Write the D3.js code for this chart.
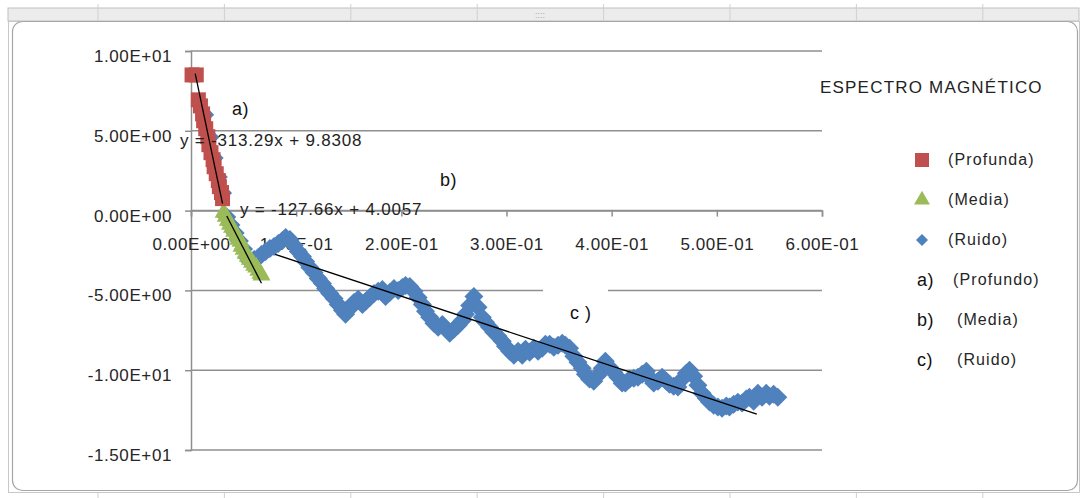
<!DOCTYPE html>
<html>
<head>
	<meta charset="utf-8">
	<title>Espectro magnetico</title>
	<script src="https://d3js.org/d3.v7.min.js"></script>
	<style type="text/css">
		body {
			margin: 0;
			background: #fff;
		}
		svg text {
			font-family: "Liberation Sans", Arial, sans-serif;
			fill: #262626;
		}
	</style>
</head>
<body>
	<script type="text/javascript">

		// ---- data ----
		// (Profunda) red squares
		var redX = [0.001, 0.005, 0.007, 0.009, 0.011, 0.012, 0.014, 0.016, 0.017, 0.019, 0.021, 0.022, 0.024, 0.026, 0.027, 0.029, 0.030];
		var redY = [8.50, 8.50, 6.94, 6.56, 6.06, 5.63, 5.13, 4.63, 4.13, 3.63, 3.19, 2.75, 2.31, 1.88, 1.50, 1.13, 0.75];

		// (Media) green triangles
		var greenX = [0.031, 0.033, 0.035, 0.037, 0.039, 0.041, 0.043, 0.045, 0.047, 0.048, 0.050, 0.052, 0.054, 0.056, 0.058, 0.060, 0.062, 0.064, 0.066, 0.067];
		var greenY = [-0.13, -0.38, -0.63, -0.88, -1.06, -1.31, -1.56, -1.81, -1.94, -2.25, -2.44, -2.69, -2.88, -3.06, -3.25, -3.44, -3.56, -3.75, -3.94, -4.06];

		// (Ruido) blue diamonds
		var blueX = [0.013, 0.018, 0.022, 0.026, 0.030, 0.034, 0.038, 0.042, 0.046, 0.050, 0.053,
			0.056, 0.060, 0.064, 0.067, 0.071, 0.075, 0.079, 0.083, 0.087, 0.090,
			0.094, 0.098, 0.102, 0.106, 0.109, 0.113, 0.117, 0.121, 0.125, 0.128,
			0.132, 0.136, 0.140, 0.144, 0.147, 0.151, 0.155, 0.159, 0.163, 0.166,
			0.170, 0.174, 0.178, 0.182, 0.185, 0.189, 0.193, 0.197, 0.201, 0.204,
			0.208, 0.212, 0.216, 0.220, 0.223, 0.227, 0.231, 0.235, 0.239, 0.242,
			0.246, 0.250, 0.254, 0.258, 0.261, 0.265, 0.269, 0.273, 0.277, 0.280,
			0.284, 0.288, 0.292, 0.296, 0.299, 0.303, 0.307, 0.311, 0.315, 0.318,
			0.322, 0.326, 0.330, 0.334, 0.337, 0.341, 0.345, 0.349, 0.353, 0.356,
			0.360, 0.364, 0.368, 0.372, 0.375, 0.379, 0.383, 0.387, 0.391, 0.394,
			0.398, 0.402, 0.406, 0.410, 0.413, 0.417, 0.421, 0.425, 0.429, 0.433,
			0.436, 0.440, 0.444, 0.448, 0.452, 0.455, 0.459, 0.463, 0.467, 0.471,
			0.474, 0.478, 0.482, 0.486, 0.490, 0.493, 0.497, 0.501, 0.505, 0.509,
			0.512, 0.516, 0.520, 0.524, 0.528, 0.531, 0.535, 0.539, 0.543, 0.547,
			0.550, 0.554, 0.558];
		var blueY = [6.00, 4.60, 3.30, 2.10, 1.10, -0.40, -0.90, -1.40, -1.90, -2.40, -2.90,
			-3.19, -3.06, -2.94, -2.75, -2.56, -2.38, -2.25, -2.06, -1.88, -1.69,
			-1.81, -2.19, -2.56, -2.88, -3.19, -3.56, -3.88, -4.25, -4.56, -4.88,
			-5.19, -5.50, -5.88, -6.25, -6.50, -6.13, -5.75, -5.56, -5.88, -5.69,
			-5.44, -5.19, -5.06, -4.94, -5.38, -5.13, -4.88, -5.00, -4.81, -4.69,
			-4.75, -5.06, -5.44, -5.88, -6.31, -6.69, -7.06, -7.31, -7.13, -7.38,
			-7.69, -7.44, -7.19, -6.88, -6.50, -5.94, -5.38, -6.06, -6.69, -7.00,
			-7.31, -7.63, -7.88, -8.19, -8.50, -8.81, -9.06, -8.81, -9.06, -8.69,
			-8.88, -8.63, -8.81, -8.63, -8.38, -8.38, -8.56, -8.44, -8.31, -8.44,
			-8.63, -9.13, -9.50, -9.88, -10.25, -10.56, -10.69, -10.31, -9.88, -9.44,
			-9.81, -10.13, -10.44, -10.81, -10.81, -10.56, -10.50, -10.44, -10.25, -10.06,
			-10.44, -10.81, -10.69, -10.44, -10.69, -10.88, -11.00, -11.06, -10.56, -10.19,
			-10.00, -10.38, -10.94, -11.44, -11.75, -12.00, -12.19, -12.31, -12.38, -12.25,
			-12.31, -12.13, -12.00, -12.06, -11.81, -11.69, -11.94, -11.44, -11.69, -11.44,
			-11.63, -11.50, -11.69];

		// linear trend lines (red, green, blue)
		var trendSlope = [-313.29, -127.66, -21.86];
		var trendIntercept = [9.8308, 4.0057, -0.99];
		var trendFrom = [0.004, 0.034, 0.08];
		var trendTo = [0.030, 0.067, 0.538];
		var trendLabels = ["y = -313.29x + 9.8308", "y = -127.66x + 4.0057", ""];

		// axis ticks
		var xTicks = [0, 0.1, 0.2, 0.3, 0.4, 0.5, 0.6];
		var yTicks = [10, 5, 0, -5, -10, -15];

		// legend
		var title = "ESPECTRO MAGNÉTICO";
		var seriesNames = ["(Profunda)", "(Media)", "(Ruido)"];
		var zoneKeys = ["a)", "b)", "c)"];
		var zoneNames = ["(Profundo)", "(Media)", "(Ruido)"];
		var colors = ["#C0504D", "#9BBB59", "#4F81BD"];

		// ---- layout ----
		var width = 1082,
			height = 498;

		var svg = d3.select("body")
			.append("svg")
			.attr("width", width)
			.attr("height", height);

		// spreadsheet bits behind the chart
		svg.append("rect")
			.attr("x", 8).attr("y", 8)
			.attr("width", 1071).attr("height", 13)
			.attr("fill", "#ececec")
			.attr("stroke", "#c0c0c0");
		for (var c = 0; c < 8; c++) {
			var cx = 98 + c * 126.4;
			svg.append("line").attr("x1", cx).attr("x2", cx).attr("y1", 4).attr("y2", 21)
				.attr("stroke", "#d0d0d0");
			svg.append("line").attr("x1", cx).attr("x2", cx).attr("y1", 492).attr("y2", 498)
				.attr("stroke", "#d0d0d0");
		}
		svg.append("text")
			.attr("x", 540).attr("y", 18)
			.attr("text-anchor", "middle")
			.style("font-size", "9px")
			.style("fill", "#aaa")
			.text("::::");

		// chart area frame
		svg.append("rect")
			.attr("x", 8.5).attr("y", 21.5)
			.attr("width", 1071).attr("height", 471)
			.attr("fill", "none")
			.attr("stroke", "#c8c8c8");
		svg.append("rect")
			.attr("x", 12.5).attr("y", 21.5)
			.attr("width", 1065).attr("height", 469)
			.attr("rx", 10)
			.attr("fill", "#fff")
			.attr("stroke", "#a6a6a6")
			.attr("stroke-width", 1.2);

		// scales
		var x = d3.scaleLinear()
			.domain([0, 0.6])
			.range([191, 822]);

		var y = d3.scaleLinear()
			.domain([-15, 10])
			.range([450, 51]);

		function txt(sel, size, spacing) {
			return sel.style("font-size", size + "px")
				.style("letter-spacing", spacing + "px");
		}

		// Excel style scientific labels, e.g. 1.00E+01 / -5.00E+00
		function sci(d) {
			return d3.format(".2e")(d)
				.replace("\u2212", "-")
				.replace("e", "E")
				.replace(/E([+\u2212-])(\d)$/, "E$10$2")
				.replace("\u2212", "-");
		}

		// horizontal gridlines
		svg.append("g")
			.selectAll("line")
			.data(yTicks)
			.enter().append("line")
			.attr("x1", x(0))
			.attr("x2", x(0.6))
			.attr("y1", function(d) { return y(d); })
			.attr("y2", function(d) { return y(d); })
			.attr("stroke", "#8f8f8f")
			.attr("stroke-width", 1.5);

		// y axis
		var yAxis = d3.axisLeft(y)
			.tickValues(yTicks)
			.tickFormat(sci)
			.tickSize(6)
			.tickPadding(13);

		var gy = svg.append("g")
			.attr("transform", "translate(" + x(0) + ",0)")
			.call(yAxis);
		gy.select(".domain").attr("stroke", "#8f8f8f").attr("stroke-width", 1.5);
		gy.selectAll(".tick line").attr("stroke", "#8f8f8f").attr("stroke-width", 1.5);
		txt(gy.selectAll("text"), 17, 0.6)
			.attr("font-family", null)
			.attr("dy", "0.62em");

		// x axis crosses at y = 0
		var xAxis = d3.axisBottom(x)
			.tickValues(xTicks)
			.tickFormat(sci)
			.tickSize(6)
			.tickPadding(21);

		var gx = svg.append("g")
			.attr("transform", "translate(0," + y(0) + ")")
			.call(xAxis);
		gx.select(".domain").attr("stroke", "#8f8f8f").attr("stroke-width", 1.5);
		gx.selectAll(".tick line").attr("stroke", "#8f8f8f").attr("stroke-width", 1.5);
		txt(gx.selectAll("text"), 17, 0.6)
			.attr("font-family", null);

		// zone labels a) b) c) on white boxes
		var zoneX = [232, 440, 570];
		var zoneY = [115, 186, 319];
		var zoneText = ["a)", "b)", "c )"];
		svg.append("rect")
			.attr("x", 543).attr("y", 285)
			.attr("width", 65).attr("height", 40)
			.attr("fill", "#fff");
		zoneText.forEach(function(t, i) {
			txt(svg.append("text"), 18, 0.5)
				.attr("x", zoneX[i]).attr("y", zoneY[i])
				.style("fill", "#111")
				.text(t);
		});

		// markers
		var square = d3.symbol().type(d3.symbolSquare).size(225);
		var triangle = d3.symbol().type(d3.symbolTriangle).size(140);
		var diamond = d3.symbol().type(d3.symbolSquare).size(180);

		function pts(xs, ys) {
			return xs.map(function(v, i) { return [v, ys[i]]; });
		}

		svg.append("g").selectAll("path")
			.data(pts(blueX, blueY))
			.enter().append("path")
			.attr("d", diamond)
			.attr("transform", function(d) { return "translate(" + x(d[0]) + "," + y(d[1]) + ") rotate(45)"; })
			.attr("fill", colors[2]);

		svg.append("g").selectAll("path")
			.data(pts(greenX, greenY))
			.enter().append("path")
			.attr("d", triangle)
			.attr("transform", function(d) { return "translate(" + x(d[0]) + "," + y(d[1]) + ")"; })
			.attr("fill", colors[1]);

		svg.append("g").selectAll("path")
			.data(pts(redX, redY))
			.enter().append("path")
			.attr("d", square)
			.attr("transform", function(d) { return "translate(" + x(d[0]) + "," + y(d[1]) + ")"; })
			.attr("fill", colors[0]);

		// trend lines
		var line = d3.line()
			.x(function(d) { return x(d[0]); })
			.y(function(d) { return y(d[1]); });

		trendSlope.forEach(function(m, i) {
			var b = trendIntercept[i];
			svg.append("path")
				.attr("d", line([[trendFrom[i], m * trendFrom[i] + b], [trendTo[i], m * trendTo[i] + b]]))
				.attr("stroke", "#000")
				.attr("stroke-width", 1.3)
				.attr("fill", "none");
		});

		// trend equations
		var eqX = [180, 240];
		var eqY = [146, 215];
		[0, 1].forEach(function(i) {
			txt(svg.append("text"), 17, 0.8)
				.attr("x", eqX[i]).attr("y", eqY[i])
				.style("fill", "#222")
				.text(trendLabels[i]);
		});

		// title
		txt(svg.append("text"), 17, 1.2)
			.attr("x", 820).attr("y", 93)
			.style("fill", "#222")
			.text(title);

		// legend
		var legend = svg.append("g");
		var markers = [
			d3.symbol().type(d3.symbolSquare).size(196),
			d3.symbol().type(d3.symbolTriangle).size(110),
			d3.symbol().type(d3.symbolSquare).size(72)
		];
		seriesNames.forEach(function(name, i) {
			var ry = 160 + i * 40;
			legend.append("path")
				.attr("d", markers[i])
				.attr("transform", "translate(922," + ry + ")" + (i == 2 ? " rotate(45)" : ""))
				.attr("fill", colors[i]);
			txt(legend.append("text"), 16, 1.1)
				.attr("x", 948).attr("y", ry + 5)
				.text(name);
		});
		zoneKeys.forEach(function(k, i) {
			var ry = 280 + i * 40;
			txt(legend.append("text"), 18, 0.5)
				.attr("x", 917).attr("y", ry + 6)
				.style("fill", "#111")
				.text(k);
			txt(legend.append("text"), 16, 1.1)
				.attr("x", i == 0 ? 953 : 957).attr("y", ry + 5)
				.text(zoneNames[i]);
		});

	</script>
</body>
</html>
